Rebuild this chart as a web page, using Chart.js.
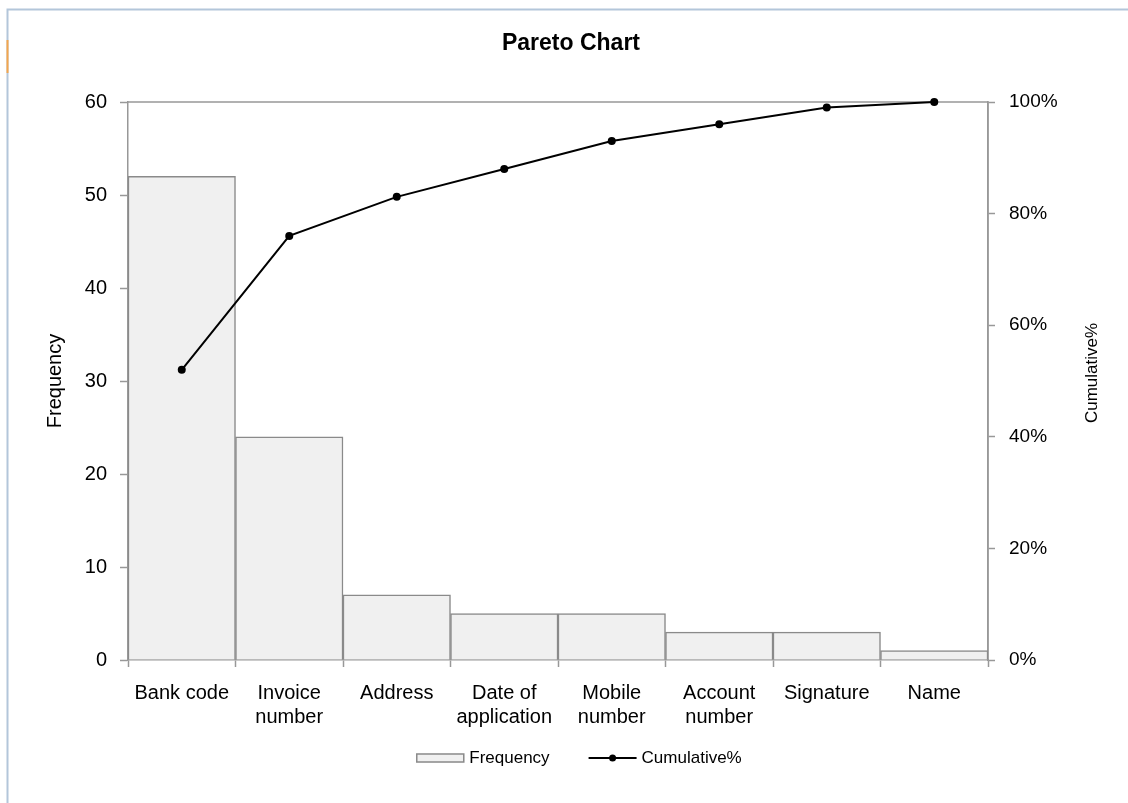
<!DOCTYPE html>
<html>
<head>
<meta charset="utf-8">
<title>Pareto Chart</title>
<script src="https://cdn.jsdelivr.net/npm/chart.js@4.4.1/dist/chart.umd.min.js"></script>
<style>
  html, body { margin: 0; padding: 0; background: #ffffff; }
  #wrap { width: 1128px; height: 803px; position: relative; }
  canvas { display: block; }
</style>
</head>
<body>
<div id="wrap"><canvas id="pareto" width="1128" height="803"></canvas></div>
<script>
// Defect categories, sorted by frequency
const categories = [
  'Bank code',
  ['Invoice', 'number'],
  'Address',
  ['Date of', 'application'],
  ['Mobile', 'number'],
  ['Account', 'number'],
  'Signature',
  'Name'
];
const frequency = [52, 24, 7, 5, 5, 3, 3, 1];
const cumulativePct = [52, 76, 83, 88, 93, 96, 99, 100];

const freqTicks = { min: 0, max: 60, step: 10 };
const pctTicks = { min: 0, max: 100, step: 20 };

const FONT = "'Liberation Sans', Arial, sans-serif";
const AXIS_GREY = '#989898';

// Light window frame around the sheet
const framePlugin = {
  id: 'frame',
  beforeDraw(chart) {
    const ctx = chart.ctx;
    ctx.save();
    ctx.fillStyle = '#ffffff';
    ctx.fillRect(0, 0, chart.width, chart.height);
    ctx.strokeStyle = '#b3c6da';
    ctx.lineWidth = 2;
    ctx.beginPath();
    ctx.moveTo(7.5, chart.height);
    ctx.lineTo(7.5, 9.5);
    ctx.lineTo(chart.width, 9.5);
    ctx.stroke();
    ctx.strokeStyle = '#f4a64d';
    ctx.beginPath();
    ctx.moveTo(7.5, 40);
    ctx.lineTo(7.5, 73);
    ctx.stroke();
    ctx.restore();
  }
};

// Plot-area box (top and right edges) plus right axis title reading upward
const plotBoxPlugin = {
  id: 'plotBox',
  beforeDatasetsDraw(chart) {
    const { ctx, chartArea: a } = chart;
    ctx.save();
    ctx.strokeStyle = AXIS_GREY;
    ctx.lineWidth = 1.5;
    ctx.beginPath();
    ctx.moveTo(a.left, a.top);
    ctx.lineTo(a.right, a.top);
    ctx.lineTo(a.right, a.bottom);
    ctx.stroke();
    ctx.restore();
  },
  afterDraw(chart) {
    const { ctx, chartArea: a } = chart;
    ctx.save();
    ctx.translate(a.right + 109, (a.top + a.bottom) / 2 - 8);
    ctx.rotate(-Math.PI / 2);
    ctx.font = '17px ' + FONT;
    ctx.fillStyle = '#000000';
    ctx.textAlign = 'center';
    ctx.textBaseline = 'alphabetic';
    ctx.fillText(chart.data.datasets[1].label, 0, 0);
    ctx.restore();
  }
};

// Legend under the category axis
const legendPlugin = {
  id: 'paretoLegend',
  afterDraw(chart) {
    const ctx = chart.ctx;
    const ds = chart.data.datasets;
    const y = 758;
    const swatch = 48, gapText = 5, gapItems = 39;
    ctx.save();
    ctx.font = '17px ' + FONT;
    const w0 = ctx.measureText(ds[0].label).width;
    const w1 = ctx.measureText(ds[1].label).width;
    const total = swatch + gapText + w0 + gapItems + swatch + gapText + w1;
    let x = 579 - total / 2;
    // bar swatch
    ctx.fillStyle = ds[0].backgroundColor;
    ctx.fillRect(x, y - 4.5, swatch, 9);
    ctx.strokeStyle = ds[0].borderColor;
    ctx.lineWidth = 1.5;
    ctx.strokeRect(x + 0.5, y - 4, swatch - 1, 8);
    ctx.fillStyle = '#000000';
    ctx.textBaseline = 'middle';
    ctx.textAlign = 'left';
    ctx.fillText(ds[0].label, x + swatch + gapText, y);
    x += swatch + gapText + w0 + gapItems;
    // line swatch with marker
    ctx.strokeStyle = ds[1].borderColor;
    ctx.lineWidth = 2;
    ctx.beginPath();
    ctx.moveTo(x, y);
    ctx.lineTo(x + swatch, y);
    ctx.stroke();
    ctx.fillStyle = ds[1].pointBackgroundColor;
    ctx.beginPath();
    ctx.arc(x + swatch / 2, y, 3.5, 0, Math.PI * 2);
    ctx.fill();
    ctx.fillStyle = '#000000';
    ctx.fillText(ds[1].label, x + swatch + gapText, y);
    ctx.restore();
  }
};

Chart.defaults.font.family = FONT;
Chart.defaults.color = '#000000';

new Chart(document.getElementById('pareto'), {
  type: 'bar',
  data: {
    labels: categories,
    datasets: [
      {
        type: 'bar',
        label: 'Frequency',
        data: frequency,
        yAxisID: 'y',
        backgroundColor: '#f0f0f0',
        borderColor: '#8a8a8a',
        borderWidth: 1.5,
        barPercentage: 1.0,
        categoryPercentage: 1.0,
        order: 2
      },
      {
        type: 'line',
        label: 'Cumulative%',
        data: cumulativePct,
        yAxisID: 'y1',
        borderColor: '#000000',
        borderWidth: 2,
        pointRadius: 4,
        pointBackgroundColor: '#000000',
        pointBorderColor: '#000000',
        pointBorderWidth: 0,
        tension: 0,
        clip: false,
        order: 1
      }
    ]
  },
  options: {
    responsive: false,
    animation: false,
    layout: { padding: { left: 14, right: 0, top: 0, bottom: 0 } },
    plugins: {
      legend: { display: false },
      tooltip: { enabled: false },
      title: {
        display: true,
        text: 'Pareto Chart',
        color: '#000000',
        font: { size: 23, weight: 'bold', family: FONT, lineHeight: 1.2 },
        padding: { top: 30, bottom: 102 - 30 - 27.6 }
      }
    },
    scales: {
      x: {
        position: 'bottom',
        offset: true,
        grid: {
          offset: true,
          drawOnChartArea: false,
          drawTicks: true,
          tickLength: 7,
          tickColor: AXIS_GREY,
          tickWidth: 1.5
        },
        border: { display: true, color: AXIS_GREY, width: 1.5 },
        ticks: {
          font: { size: 20, family: FONT, lineHeight: 1.2 },
          color: '#000000',
          padding: 14,
          maxRotation: 0,
          autoSkip: false
        },
        afterFit(scale) { scale.height = 143; }
      },
      y: {
        position: 'left',
        min: freqTicks.min,
        max: freqTicks.max,
        grid: {
          drawOnChartArea: false,
          drawTicks: true,
          tickLength: 8,
          tickColor: AXIS_GREY,
          tickWidth: 1.5
        },
        border: { display: true, color: AXIS_GREY, width: 1.5 },
        ticks: {
          stepSize: freqTicks.step,
          font: { size: 20, family: FONT },
          color: '#000000',
          padding: 13
        },
        title: {
          display: true,
          text: 'Frequency',
          color: '#000000',
          font: { size: 20, family: FONT, lineHeight: 1.2 },
          padding: { top: 29, bottom: 0 }
        },
        afterFit(scale) { scale.width = 114; }
      },
      y1: {
        position: 'right',
        min: pctTicks.min,
        max: pctTicks.max,
        grid: {
          drawOnChartArea: false,
          drawTicks: true,
          tickLength: 7,
          tickColor: AXIS_GREY,
          tickWidth: 1.5
        },
        border: { display: true, color: AXIS_GREY, width: 1.5 },
        ticks: {
          stepSize: pctTicks.step,
          font: { size: 19, family: FONT },
          color: '#000000',
          padding: 14,
          callback: (v) => v + '%'
        },
        afterFit(scale) { scale.width = 140; }
      }
    }
  },
  plugins: [framePlugin, plotBoxPlugin, legendPlugin]
});
</script>
</body>
</html>
